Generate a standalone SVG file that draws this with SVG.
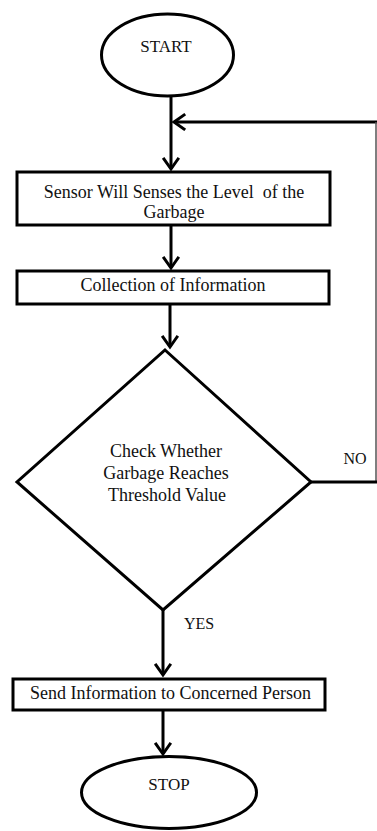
<svg xmlns="http://www.w3.org/2000/svg" width="377" height="831" viewBox="0 0 377 831">
  <style>
    .shape { fill: #ffffff; stroke: #000000; stroke-width: 3; }
    .lbl { font-family: 'Liberation Serif', 'Times New Roman', 'DejaVu Serif', serif; font-size: 18px; fill: #111111; text-anchor: middle; white-space: pre; }
    .term { font-size: 17px; }
    .small { font-size: 16px; }
    .flow { fill: none; stroke: #000000; stroke-width: 3; }
    .thin { fill: none; stroke: #555555; stroke-width: 1.5; }
  </style>
  <defs>
    <marker id="head" markerUnits="userSpaceOnUse" markerWidth="20" markerHeight="20" viewBox="-12 -10 14 20" refX="0" refY="0" orient="auto" overflow="visible">
      <path d="M-10,-7 L0,0 L-10,7" fill="none" stroke="#000000" stroke-width="3" stroke-linecap="square"/>
    </marker>
  </defs>

  <rect width="377" height="831" fill="#ffffff"/>

  <!-- connectors -->
  <g id="connectors">
    <path class="flow" d="M171,97 V169" marker-end="url(#head)"/>
    <path class="flow" d="M377,122 H174" marker-end="url(#head)"/>
    <path class="thin" d="M376,122 V482"/>
    <path class="flow" d="M311,482 H377"/>
    <path class="flow" d="M171,226 V268" marker-end="url(#head)"/>
    <path class="flow" d="M170,305 V347" marker-end="url(#head)"/>
    <path class="flow" d="M163,610 V675" marker-end="url(#head)"/>
    <path class="flow" d="M163,711 V754" marker-end="url(#head)"/>
  </g>

  <!-- terminal: start -->
  <g id="start">
    <ellipse class="shape" cx="167.5" cy="55" rx="66" ry="41"/>
    <text class="lbl term" x="166" y="52" font-family="'Liberation Serif', 'DejaVu Serif', serif">START</text>
  </g>

  <!-- process: sensing -->
  <g id="sense">
    <rect class="shape" x="17" y="172" width="313" height="53"/>
    <text class="lbl" x="174" y="198" xml:space="preserve">Sensor Will Senses the Level  of the</text>
    <text class="lbl" x="174" y="218">Garbage</text>
  </g>

  <!-- process: collection -->
  <g id="collect">
    <rect class="shape" x="17" y="271" width="312" height="33"/>
    <text class="lbl" x="173" y="291">Collection of Information</text>
  </g>

  <!-- decision -->
  <g id="decision">
    <polygon class="shape" points="165,350 311,482 163,610 17,482"/>
    <text class="lbl" x="166" y="457">Check Whether</text>
    <text class="lbl" x="166" y="479">Garbage Reaches</text>
    <text class="lbl" x="167" y="501">Threshold Value</text>
    <text class="lbl small" x="355" y="464">NO</text>
    <text class="lbl small" x="199" y="629">YES</text>
  </g>

  <!-- process: notify -->
  <g id="notify">
    <rect class="shape" x="13" y="679" width="312" height="31"/>
    <text class="lbl" x="170.5" y="699">Send Information to Concerned Person</text>
  </g>

  <!-- terminal: stop -->
  <g id="stop">
    <ellipse class="shape" cx="169" cy="792.5" rx="87.5" ry="36"/>
    <text class="lbl term" x="169" y="790">STOP</text>
  </g>
</svg>
